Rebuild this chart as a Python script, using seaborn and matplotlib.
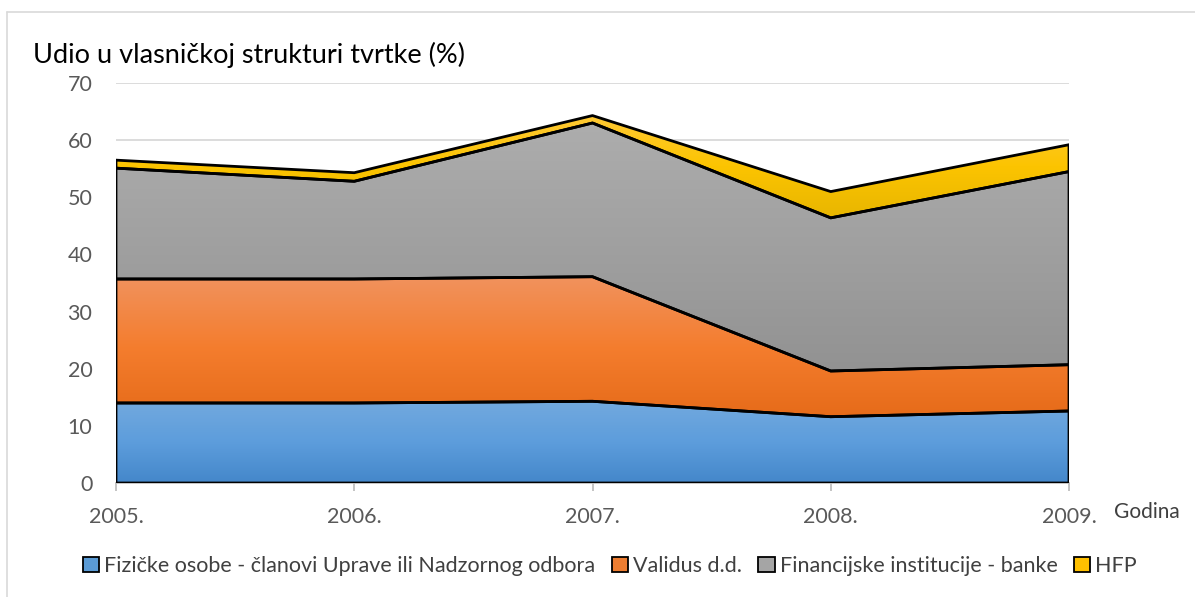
import numpy as np
import pandas as pd
import matplotlib
matplotlib.use("Agg")
import matplotlib.pyplot as plt
import seaborn as sns
from matplotlib.colors import LinearSegmentedColormap
from matplotlib.patches import Patch
from matplotlib.lines import Line2D

years = ["2005.", "2006.", "2007.", "2008.", "2009."]
fizicke = [14.0, 14.0, 14.3, 11.6, 12.6]
validus = [21.7, 21.7, 21.8, 8.0, 8.1]
banke = [19.4, 17.1, 26.9, 26.8, 33.8]
hfp = [1.4, 1.5, 1.3, 4.6, 4.7]
series_names = ["Fizičke osobe - članovi Uprave ili Nadzornog odbora", "Validus d.d.",
                "Financijske institucije - banke", "HFP"]

df = pd.DataFrame({"Godina": years, series_names[0]: fizicke, series_names[1]: validus,
                   series_names[2]: banke, series_names[3]: hfp})

sns.set_theme(style="white")
plt.rcParams['font.family'] = ['Lato', 'DejaVu Sans']

# gradient colour stops (bottom -> top) and legend colours
grads = [["#4487ca", "#5d9ddc", "#72a9de"],
         ["#e66b19", "#f47d2e", "#f1925d"],
         ["#929292", "#a0a0a0", "#adadad"],
         ["#e8b600", "#fcc400", "#ffc935"]]
legend_cols = ["#5b9bd5", "#ed7d31", "#a5a5a5", "#ffc000"]

fig = plt.figure(figsize=(11.95, 5.97), dpi=100)
ax = fig.add_axes([116/1195, 1-483/597, (1069-116)/1195, 400/597])

x = np.arange(len(years))
vals = [df[n].values for n in series_names]
polys = ax.stackplot(x, *vals, colors=legend_cols, edgecolor="black", linewidth=2.0, zorder=2)

cum = np.cumsum(np.vstack(vals), axis=0)
for i, poly in enumerate(polys):
    top = cum[i]
    bot = cum[i-1] if i > 0 else np.zeros_like(top)
    ymax, ymin = top.max(), bot.min()
    cmap = LinearSegmentedColormap.from_list(f"g{i}", grads[i])
    grad = np.linspace(0, 1, 256).reshape(-1, 1)
    im = ax.imshow(grad, cmap=cmap, aspect="auto", origin="lower",
                   extent=[x[0], x[-1], ymin, ymax], zorder=2.5, interpolation="bicubic")
    im.set_clip_path(poly.get_paths()[0], ax.transData)
    poly.set_facecolor("none")
    poly.set_zorder(3)

ax.set_xlim(x[0], x[-1])
ax.set_ylim(0, 70)
ax.set_yticks(range(0, 71, 10))
ax.yaxis.grid(True, color="#d9d9d9", linewidth=1.3)
ax.set_axisbelow(True)
ax.set_xticks(x)
ax.set_xticklabels(years)
for s in ["top", "right", "left"]:
    ax.spines[s].set_visible(False)
ax.spines["bottom"].set_color("#bfbfbf")
ax.spines["bottom"].set_linewidth(1.3)
ax.spines["bottom"].set_zorder(1)
ax.tick_params(axis="x", which="both", bottom=True, length=6, width=1.3, color="#bfbfbf",
               labelsize=15.5, labelcolor="#595959", pad=11)
ax.tick_params(axis="y", length=0, labelsize=15.5, labelcolor="#595959", pad=17)
ax.set_xlabel("")
ax.set_ylabel("")

fig.text(33/1195, 1-55/597, "Udio u vlasničkoj strukturi tvrtke (%)", fontsize=19.5,
         color="black", va="center", ha="left")
fig.text(1114/1195, 1-512/597, "Godina", fontsize=15, color="#404040", va="center", ha="left")

handles = [Patch(facecolor=c, edgecolor="black", linewidth=1.3) for c in legend_cols]
fig.legend(handles, series_names, loc="center", bbox_to_anchor=(610/1195, 1-566/597), ncol=4,
           frameon=False, fontsize=15.5, labelcolor="#404040", handlelength=0.75, handleheight=0.75,
           handletextpad=0.25, columnspacing=0.75)

# outer chart border (top and left)
fig.add_artist(Line2D([7/1195, 7/1195], [0, 1-12/597], transform=fig.transFigure, color="#d9d9d9", lw=1.2))
fig.add_artist(Line2D([7/1195, 1], [1-12/597, 1-12/597], transform=fig.transFigure, color="#d9d9d9", lw=1.2))

fig.savefig("out.png", dpi=100)
